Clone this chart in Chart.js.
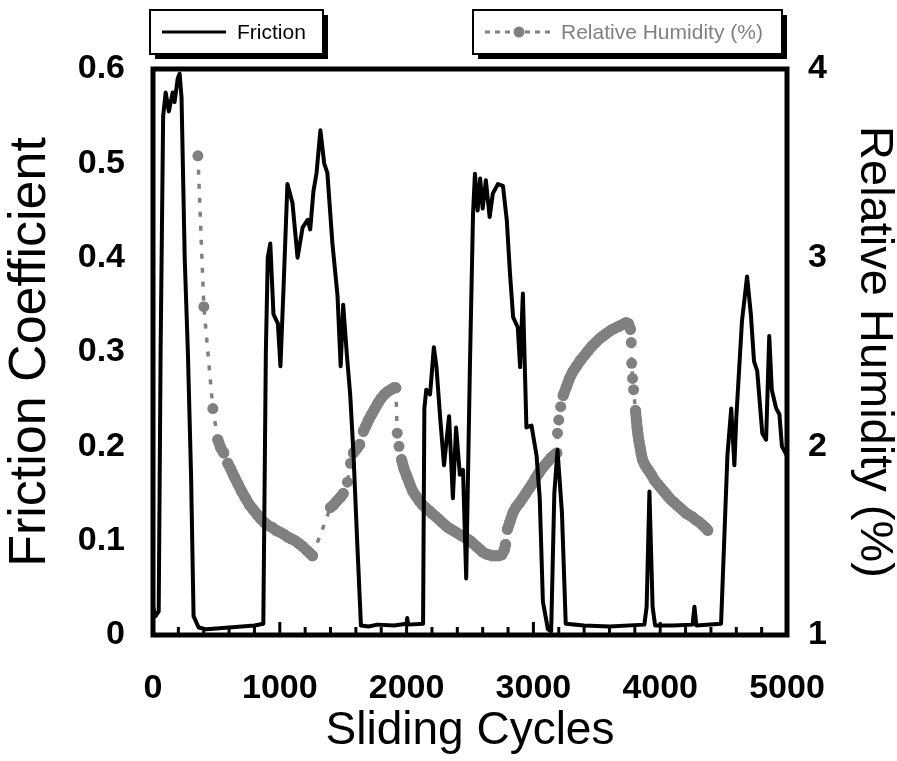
<!DOCTYPE html>
<html>
<head>
<meta charset="utf-8">
<script src="https://cdn.jsdelivr.net/npm/chart.js@4.4.1/dist/chart.umd.min.js"></script>
<style>
  html, body { margin: 0; padding: 0; background: #fff; }
  #wrap { width: 897px; height: 761px; }
</style>
</head>
<body>
<div id="wrap"><canvas id="chart" width="897" height="761"></canvas></div>
<script>
// Friction coefficient trace (black line)
const frictionCycles = [
    0, 20, 45, 60, 80, 100, 125, 155, 170, 195, 210, 225, 250, 275, 300, 320, 360, 420, 500, 600,
    700, 800, 870, 890, 905, 925, 950, 985, 1005, 1030, 1060, 1100, 1140, 1180, 1220, 1240, 1265, 1290, 1320, 1350,
    1375, 1415, 1455, 1480, 1500, 1530, 1555, 1580, 1610, 1640, 1700, 1770, 1900, 2000, 2005, 2012, 2130, 2140, 2155, 2185,
    2215, 2235, 2265, 2295, 2335, 2365, 2390, 2420, 2445, 2470, 2500, 2524, 2539, 2560, 2580, 2600, 2625, 2655, 2680, 2720,
    2760, 2790, 2815, 2840, 2877, 2895, 2917, 2945, 2985, 3025, 3050, 3075, 3115, 3140, 3165, 3190, 3225, 3255, 3400, 3600,
    3875, 3893, 3915, 3940, 3960, 4100, 4255, 4270, 4285, 4480, 4530, 4560, 4585, 4600, 4645, 4685, 4715, 4740, 4765, 4805,
    4835, 4860, 4880, 4915, 4940, 4960, 5000
];
const frictionValues = [
    0.03, 0.02, 0.025, 0.30, 0.55, 0.575, 0.555, 0.575, 0.565, 0.59, 0.595, 0.57, 0.40, 0.30, 0.17, 0.02, 0.008, 0.006, 0.007, 0.008,
    0.009, 0.01, 0.012, 0.30, 0.40, 0.415, 0.34, 0.33, 0.285, 0.37, 0.478, 0.458, 0.40, 0.432, 0.44, 0.43, 0.47, 0.49, 0.535, 0.50,
    0.49, 0.415, 0.36, 0.285, 0.35, 0.295, 0.255, 0.195, 0.10, 0.01, 0.009, 0.011, 0.01, 0.012, 0.018, 0.011, 0.012, 0.24, 0.26, 0.255,
    0.305, 0.285, 0.23, 0.18, 0.232, 0.145, 0.22, 0.17, 0.175, 0.06, 0.29, 0.447, 0.489, 0.45, 0.484, 0.452, 0.482, 0.443, 0.468, 0.478,
    0.476, 0.44, 0.384, 0.337, 0.326, 0.284, 0.362, 0.22, 0.222, 0.19, 0.145, 0.035, 0.006, 0.004, 0.15, 0.196, 0.13, 0.012, 0.01, 0.009,
    0.011, 0.03, 0.152, 0.03, 0.01, 0.01, 0.011, 0.03, 0.01, 0.012, 0.19, 0.24, 0.18, 0.23, 0.333, 0.38, 0.34, 0.29, 0.28, 0.214,
    0.207, 0.317, 0.26, 0.24, 0.234, 0.20, 0.19
];

// Relative humidity readings (grey dots, right axis)
const humidityCycles = [
    354, 401, 472, 511, 535, 558, 590, 613, 640, 670, 700, 730, 760, 790, 820, 850, 880, 910, 940, 970,
    1000, 1030, 1060, 1090, 1120, 1150, 1180, 1210, 1235, 1258,
    1400, 1425, 1450, 1478, 1500, 1533, 1557, 1580, 1610, 1630, 1659, 1680, 1700, 1725, 1750, 1775, 1800, 1825, 1850, 1875,
    1900, 1915, 1926, 1940, 1960, 1980, 2000, 2025, 2050, 2075, 2100, 2125, 2150, 2175, 2200, 2225, 2250, 2275, 2300, 2325,
    2350, 2375, 2400, 2425, 2450, 2475, 2500, 2525, 2550, 2575, 2600, 2625, 2650, 2675, 2700, 2725, 2750, 2770, 2780,
    2795, 2815, 2840, 2865, 2890, 2915, 2940, 2965, 2990, 3015, 3040, 3065, 3090, 3115, 3140, 3165, 3185,
    3190, 3200, 3215, 3235, 3260, 3285, 3310, 3340, 3370, 3400, 3430, 3460, 3490, 3520, 3550, 3580, 3610, 3640, 3670, 3700,
    3730, 3750, 3765, 3772, 3775, 3782, 3790, 3805, 3812, 3818, 3825, 3832, 3840, 3850, 3860, 3880, 3905, 3930, 3955, 3980,
    4005, 4030, 4055, 4080, 4105, 4130, 4155, 4180, 4205, 4230, 4255, 4280, 4305, 4330, 4355, 4375
];
const humidityValues = [
    3.54, 2.74, 2.20, 2.035, 1.99, 1.965, 1.91, 1.88, 1.84, 1.80, 1.76, 1.725, 1.69, 1.665, 1.64, 1.615, 1.595, 1.58, 1.57, 1.555,
    1.545, 1.535, 1.52, 1.51, 1.50, 1.485, 1.47, 1.45, 1.435, 1.42,
    1.676, 1.69, 1.71, 1.73, 1.75, 1.81, 1.91, 1.965, 1.99, 2.01, 2.08, 2.11, 2.14, 2.17, 2.20, 2.23, 2.255, 2.275, 2.29, 2.30,
    2.31, 2.31, 2.07, 2.00, 1.93, 1.88, 1.845, 1.80, 1.76, 1.735, 1.71, 1.69, 1.675, 1.66, 1.645, 1.63, 1.615, 1.60, 1.585, 1.57,
    1.56, 1.55, 1.54, 1.53, 1.52, 1.51, 1.50, 1.485, 1.47, 1.455, 1.44, 1.43, 1.425, 1.42, 1.42, 1.42, 1.425, 1.45, 1.48,
    1.56, 1.60, 1.65, 1.68, 1.70, 1.725, 1.75, 1.775, 1.80, 1.83, 1.855, 1.88, 1.90, 1.92, 1.94, 1.955, 1.965,
    2.07, 2.14, 2.21, 2.27, 2.315, 2.36, 2.395, 2.425, 2.455, 2.48, 2.505, 2.53, 2.55, 2.57, 2.585, 2.60, 2.615, 2.625, 2.635, 2.645,
    2.655, 2.65, 2.62, 2.55, 2.44, 2.36, 2.30, 2.19, 2.14, 2.10, 2.06, 2.03, 2.00, 1.96, 1.93, 1.90, 1.875, 1.85, 1.82, 1.80,
    1.78, 1.76, 1.74, 1.72, 1.705, 1.69, 1.675, 1.66, 1.645, 1.635, 1.625, 1.61, 1.60, 1.585, 1.57, 1.555
];

const FONT = '"Liberation Sans", Arial, sans-serif';
const GREY = '#808080';
const DOT_R = 5.5;

// consecutive humidity dots closer than this (px) merge into one thick band
const isDense = c => Math.hypot(c.p1.x - c.p0.x, c.p1.y - c.p0.y) < 10;

// Frame round the plot + short tick marks pointing inwards from the bottom axis
const frameTicks = {
    id: 'frameTicks',
    afterDatasetsDraw(chart) {
        const {ctx, chartArea: a, scales} = chart;
        ctx.save();
        ctx.strokeStyle = '#000';
        ctx.lineWidth = 3;
        for (let v = 200; v < 5000; v += 200) {
            const px = scales.x.getPixelForValue(v);
            const len = v % 1000 === 0 ? 13 : 8;
            ctx.beginPath();
            ctx.moveTo(px, a.bottom);
            ctx.lineTo(px, a.bottom - len);
            ctx.stroke();
        }
        ctx.lineWidth = 5;
        ctx.strokeRect(a.left, a.top, a.right - a.left, a.bottom - a.top);
        ctx.restore();
    }
};

// Two separate legend boxes with a drop shadow, above the plot
const boxLegend = {
    id: 'boxLegend',
    afterDraw(chart) {
        const ctx = chart.ctx;
        const ds = chart.data.datasets;
        const boxes = [
            {x: 150, y: 10, w: 173, h: 44, ds: ds[0]},
            {x: 473, y: 10, w: 309, h: 44, ds: ds[1]}
        ];
        ctx.save();
        boxes.forEach((b, i) => {
            ctx.fillStyle = '#000';
            ctx.fillRect(b.x + 5, b.y + 5, b.w, b.h);
            ctx.fillStyle = '#fff';
            ctx.fillRect(b.x, b.y, b.w, b.h);
            ctx.strokeStyle = '#000';
            ctx.lineWidth = 2;
            ctx.strokeRect(b.x, b.y, b.w, b.h);

            const cy = b.y + b.h / 2;
            ctx.strokeStyle = b.ds.borderColor;
            ctx.lineWidth = 3;
            ctx.setLineDash(i === 0 ? [] : [5, 5]);
            ctx.beginPath();
            ctx.moveTo(b.x + 12, cy);
            ctx.lineTo(b.x + (i === 0 ? 76 : 82), cy);
            ctx.stroke();
            ctx.setLineDash([]);
            if (i === 1) {
                ctx.fillStyle = b.ds.pointBackgroundColor;
                ctx.beginPath();
                ctx.arc(b.x + 46, cy, DOT_R, 0, Math.PI * 2);
                ctx.fill();
            }
            ctx.fillStyle = i === 0 ? '#000' : GREY;
            ctx.font = '21px ' + FONT;
            ctx.textBaseline = 'middle';
            ctx.fillText(b.ds.label, b.x + (i === 0 ? 87 : 88), cy + 1);
        });
        ctx.restore();
    }
};

const ctx = document.getElementById('chart').getContext('2d');
new Chart(ctx, {
    type: 'line',
    data: {
        datasets: [{
            label: 'Friction',
            data: frictionCycles.map((c, i) => ({x: c, y: frictionValues[i]})),
            yAxisID: 'y',
            borderColor: '#000',
            borderWidth: 4,
            borderJoinStyle: 'round',
            pointRadius: 0,
            tension: 0
        }, {
            label: 'Relative Humidity (%)',
            data: humidityCycles.map((c, i) => ({x: c, y: humidityValues[i]})),
            yAxisID: 'y2',
            borderColor: GREY,
            borderWidth: 3.5,
            borderDash: [5, 9],
            pointRadius: DOT_R,
            pointBorderWidth: 0,
            pointBackgroundColor: GREY,
            pointBorderColor: GREY,
            tension: 0,
            segment: {
                borderWidth: c => isDense(c) ? DOT_R * 2 : 3.5,
                borderDash: c => isDense(c) ? [] : [5, 9],
                borderCapStyle: c => isDense(c) ? 'round' : 'butt',
                borderJoinStyle: c => isDense(c) ? 'round' : 'miter'
            }
        }]
    },
    options: {
        responsive: false,
        animation: false,
        devicePixelRatio: 1,
        layout: {padding: {top: 69, left: 0, right: 0, bottom: 0}},
        plugins: {
            legend: {display: false},
            tooltip: {enabled: false}
        },
        scales: {
            x: {
                type: 'linear',
                min: 0,
                max: 5000,
                grid: {display: false, drawTicks: false},
                border: {display: false},
                ticks: {
                    stepSize: 1000,
                    padding: 33,
                    color: '#000',
                    font: {family: FONT, size: 34, weight: 'bold'},
                    callback: v => String(v)
                },
                title: {
                    display: true,
                    text: 'Sliding Cycles',
                    color: '#000',
                    font: {family: FONT, size: 46, lineHeight: 1},
                    padding: {top: 0, bottom: 7}
                },
                afterFit: s => { s.height = 126; }
            },
            y: {
                position: 'left',
                min: 0,
                max: 0.6,
                grid: {display: false, drawTicks: false},
                border: {display: false},
                ticks: {
                    stepSize: 0.1,
                    padding: 28,
                    color: '#000',
                    font: {family: FONT, size: 34, weight: 'bold'},
                    callback: v => v === 0 ? '0' : v.toFixed(1)
                },
                title: {
                    display: true,
                    text: 'Friction Coefficient',
                    color: '#000',
                    font: {family: FONT, size: 52, lineHeight: 1},
                    padding: {top: 5, bottom: 0}
                },
                afterFit: s => { s.width = 153; }
            },
            y2: {
                position: 'right',
                min: 1,
                max: 4,
                grid: {display: false, drawTicks: false},
                border: {display: false},
                ticks: {
                    stepSize: 1,
                    padding: 21,
                    color: '#000',
                    font: {family: FONT, size: 34, weight: 'bold'},
                    callback: v => String(v)
                },
                title: {
                    display: true,
                    text: 'Relative Humidity (%)',
                    color: '#000',
                    font: {family: FONT, size: 47, lineHeight: 1},
                    padding: {top: 0, bottom: 0}
                },
                afterFit: s => { s.width = 110; }
            }
        }
    },
    plugins: [frameTicks, boxLegend]
});
</script>
</body>
</html>
